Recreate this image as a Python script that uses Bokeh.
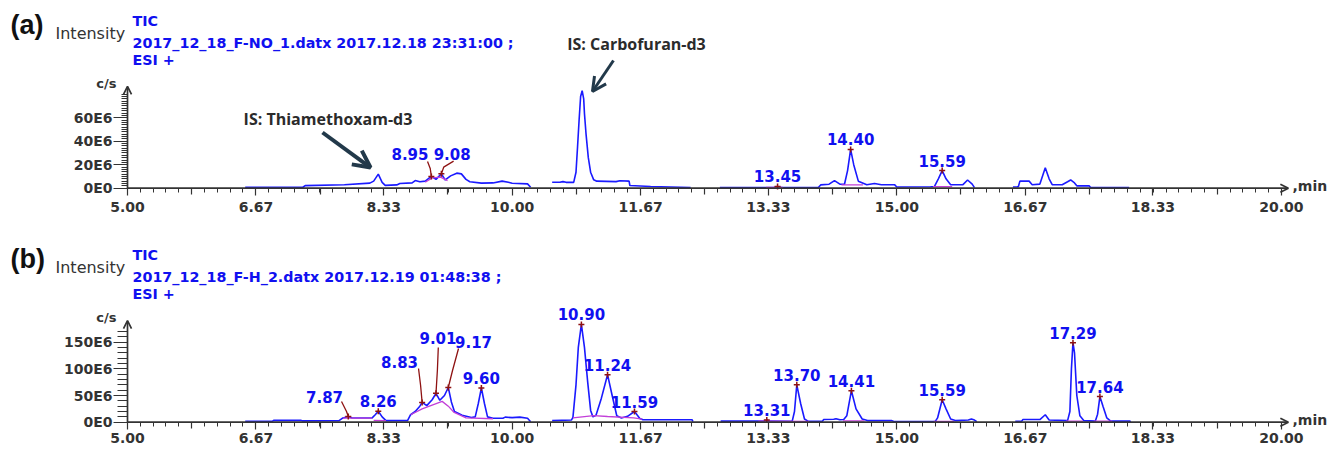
from bokeh.plotting import figure
from bokeh.models import (Range1d, FixedTicker, Label, LabelSet, ColumnDataSource,
                          Arrow, OpenHead, LinearAxis)
from bokeh.layouts import column
from bokeh.core.properties import value
from bokeh.embed import file_html
from bokeh.resources import INLINE

NAN = float("nan")

# ---------------- data ----------------
X_TICKS = [5.00, 6.67, 8.33, 10.00, 11.67, 13.33, 15.00, 16.67, 18.33, 20.00]
X_TICK_LABELS = ["5.00", "6.67", "8.33", "10.00", "11.67", "13.33", "15.00", "16.67", "18.33", "20.00"]

A_Y_TICKS = [0, 20, 40, 60]
A_Y_TICK_LABELS = ["0E0", "20E6", "40E6", "60E6"]
B_Y_TICKS = [0, 50, 100, 150]
B_Y_TICK_LABELS = ["0E0", "50E6", "100E6", "150E6"]

A_HEADER = ["TIC", "2017_12_18_F-NO_1.datx 2017.12.18 23:31:00 ;", "ESI +"]
B_HEADER = ["TIC", "2017_12_18_F-H_2.datx 2017.12.19 01:48:38 ;", "ESI +"]

# TIC trace (a): time in min, intensity in 1E6 c/s (NaN = segment gap)
A_TIME = [6.53, 7.28, 7.31, 7.82, 8.15, 8.20, 8.26, 8.31, 8.35, 8.50, 8.54, 8.70, 8.74, 8.80,
          8.87, 8.95, 9.01, 9.08, 9.13, 9.20, 9.28, 9.34, 9.40, 9.45, 9.60, 9.75, 9.87, 9.95,
          10.00, 10.20, 10.24, NAN,
          10.52, 10.62, 10.66, 10.70, 10.80, 10.83, 10.85, 10.87, 10.89, 10.91, 10.93, 10.94,
          10.96, 10.99, 11.02, 11.06, 11.10, 11.35, 11.40, 11.52, 11.53, 11.80, 12.32, NAN,
          12.70, 13.40, 13.45, 13.50, 13.98, 14.01, 14.12, 14.19, 14.26, 14.32, 14.36, 14.40,
          14.44, 14.50, 14.61, 14.71, 14.80, 14.97, 15.00, 15.44, 15.49, 15.54, 15.59, 15.64,
          15.70, 15.86, 15.92, 15.98, 16.01, NAN,
          16.51, 16.58, 16.60, 16.72, 16.76, 16.86, 16.93, 16.98, 17.02, 17.15, 17.22, 17.26,
          17.31, 17.34, 17.50, 17.52, 18.02]
A_INT = [0.8, 0.8, 2.2, 3.0, 4.3, 6.0, 12.0, 5.0, 2.4, 2.8, 4.0, 4.5, 6.5, 5.5,
         6.0, 10.0, 7.5, 12.2, 7.0, 10.5, 12.8, 12.2, 7.5, 5.5, 4.3, 4.5, 6.0, 5.0,
         4.2, 3.7, 0.8, NAN,
         5.1, 5.0, 5.6, 5.0, 5.0, 13.6, 35.0, 57.6, 78.0, 83.0, 76.0, 63.5,
         46.5, 26.0, 13.6, 7.1, 6.0, 5.6, 6.3, 6.0, 2.3, 1.4, 0.6, NAN,
         0.6, 0.6, 1.5, 0.6, 0.6, 2.8, 3.4, 6.5, 3.5, 3.4, 15.0, 33.0,
         20.0, 6.0, 3.0, 4.0, 3.0, 3.0, 1.0, 1.2, 1.5, 8.0, 15.0, 8.0,
         3.0, 3.0, 7.0, 3.5, 0.5, NAN,
         1.0, 1.2, 6.0, 6.0, 3.0, 3.5, 17.5, 8.0, 3.0, 3.0, 5.5, 7.0,
         4.5, 2.0, 2.0, 0.6, 0.6]

# integration baselines (a)
A_BASE_T = [8.87, 8.96, 9.07, 9.16, NAN, 13.30, 13.52, NAN, 14.28, 14.56, NAN, 15.47, 15.72]
A_BASE_I = [5.1, 8.8, 9.4, 6.5, NAN, 0.6, 0.6, NAN, 2.8, 2.8, NAN, 1.3, 1.3]

# labelled peaks (a)
A_PEAK_T = [8.95, 9.08, 13.45, 14.40, 15.59]
A_PEAK_I = [10.0, 12.2, 1.5, 33.0, 15.0]

# TIC trace (b)
B_TIME = [6.53, 6.88, 6.90, 7.25, 7.27, 7.75, 7.80, 7.87, 7.92, 8.18, 8.22, 8.26, 8.31, 8.36,
          8.64, 8.68, 8.74, 8.80, 8.83, 8.89, 8.96, 9.01, 9.06, 9.12, 9.17, 9.21, 9.25, 9.35,
          9.47, 9.52, 9.56, 9.60, 9.64, 9.68, 9.75, 9.88, 9.91, 10.00, 10.10, 10.20, 10.24, NAN,
          10.52, 10.77, 10.79, 10.83, 10.86, 10.90, 10.94, 10.98, 11.02, 11.05, 11.09, 11.16,
          11.24, 11.30, 11.36, 11.42, 11.50, 11.59, 11.66, 11.70, 12.34, 12.35, NAN,
          12.71, 13.28, 13.31, 13.34, 13.64, 13.67, 13.70, 13.75, 13.80, 13.85, 14.03, 14.05,
          14.18, 14.21, 14.26, 14.31, 14.35, 14.41, 14.47, 14.55, 14.62, 14.93, 14.97, 15.50,
          15.53, 15.59, 15.64, 15.70, 15.76, 15.93, 15.97, 16.01, 16.04, NAN,
          16.54, 16.62, 16.64, 16.86, 16.93, 16.98, 17.22, 17.25, 17.27, 17.29, 17.31, 17.34,
          17.38, 17.43, 17.58, 17.61, 17.64, 17.68, 17.73, 17.78, 18.03, 18.04]
B_INT = [1.5, 1.5, 3.5, 3.5, 2.5, 3.0, 8.0, 10.7, 8.0, 8.0, 14.0, 20.6, 10.0, 3.0,
         3.0, 14.0, 20.0, 30.0, 37.0, 31.0, 42.0, 54.0, 41.0, 50.0, 65.0, 38.0, 20.0, 13.0,
         8.7, 10.0, 35.0, 64.0, 35.0, 10.0, 7.5, 7.5, 9.5, 8.5, 9.5, 7.5, 1.0, NAN,
         3.0, 4.0, 9.0, 70.0, 140.0, 183.0, 140.0, 78.0, 22.0, 10.0, 13.0, 45.0,
         89.0, 50.0, 12.0, 8.0, 11.0, 20.0, 7.0, 4.5, 4.5, 1.0, NAN,
         2.0, 2.0, 4.0, 2.0, 1.5, 20.0, 70.0, 35.0, 6.0, 1.5, 1.5, 5.0,
         5.5, 6.5, 4.5, 5.0, 12.0, 59.0, 25.0, 6.0, 3.0, 3.0, 1.0, 1.5,
         8.0, 42.0, 25.0, 6.0, 3.0, 4.0, 6.0, 4.0, 1.0, NAN,
         1.5, 1.5, 5.0, 5.0, 14.0, 4.0, 3.0, 20.0, 100.0, 149.0, 130.0, 50.0,
         12.0, 3.0, 2.0, 15.0, 48.0, 30.0, 8.0, 2.0, 2.0, 0.5]

B_BASE_T = [7.80, 8.18, NAN, 8.20, 8.36, NAN, 8.68, 8.83, 8.96, 9.09, 9.17, 9.24, 9.40, 9.75, NAN,
            10.79, 11.06, 11.24, 11.58, 11.69, NAN, 13.20, 13.86, NAN, 14.30, 14.58, NAN,
            15.48, 15.75, NAN, 17.20, 17.42, NAN, 17.56, 17.80]
B_BASE_I = [7.5, 7.5, NAN, 3.5, 3.0, NAN, 14.0, 25.0, 32.0, 39.0, 30.0, 19.0, 8.0, 6.5, NAN,
            8.0, 12.5, 10.7, 8.0, 5.6, NAN, 2.0, 1.5, NAN, 2.5, 2.5, NAN,
            1.5, 1.5, NAN, 2.0, 2.0, NAN, 2.0, 2.0]

B_PEAK_T = [7.87, 8.26, 8.83, 9.01, 9.17, 9.60, 10.90, 11.24, 11.59, 13.31, 13.70, 14.41, 15.59, 17.29, 17.64]
B_PEAK_I = [10.7, 20.6, 37.0, 54.0, 65.0, 64.0, 183.0, 89.0, 20.0, 4.0, 70.0, 59.0, 42.0, 149.0, 48.0]

# ---------------- layout / annotation positions ----------------
# labels moved away from their peak (label centre, then leader path to apex), data units
A_LEADERS = {8.95: ((8.672, 29.5), [8.900, 8.935], [22.7, 16.8]),
             9.08: ((9.220, 29.5), [9.239, 9.110], [23.0, 17.9])}
B_LEADERS = {7.87: ((7.561, 46.3), [7.782, 7.847], [38.8, 20.0]),
             8.83: ((8.536, 111.8), [8.783, 8.810], [100.6, 68.7]),
             9.01: ((9.036, 156.8), [9.040, 9.028], [139.9, 96.8]),
             9.17: ((9.498, 149.3), [9.303, 9.225], [138.0, 96.8])}

W, H = 1328, 225
ORIGIN_X = 127.0            # page x of t = 5.00
PX_PER_MIN = 76.93
X_AXIS_END = 20.09          # tip of the time-axis arrow
X_START = 5.0 - ORIGIN_X / PX_PER_MIN
X_END = 5.0 + (W - ORIGIN_X) / PX_PER_MIN

BLUE_LINE = "#1a1aff"
LABEL_BLUE = "#1010f0"
MAGENTA = "#c23fd8"
RED = "#8e1212"
AXIS = "#333333"
SLATE = "#22394a"


def style_axis(ax):
    ax.axis_line_color = None
    ax.major_tick_line_color = AXIS
    ax.major_tick_line_width = 1.2
    ax.minor_tick_line_color = AXIS
    ax.minor_tick_line_width = 1.0
    ax.major_label_text_font = "DejaVu Sans"
    ax.major_label_text_font_style = "bold"
    ax.major_label_text_font_size = "14px"
    ax.major_label_text_color = AXIS


def make_panel(tag, header, bottom_px, px_per_unit, y_top, y_ticks, y_labels, y_minor, minor_len,
               tt, ti, bt, bi, pk_t, pk_i, leaders, x_standoff):
    y_start = -bottom_px / px_per_unit
    y_end = (H - bottom_px) / px_per_unit
    p = figure(width=W, height=H, x_range=Range1d(X_START, X_END), y_range=Range1d(y_start, y_end),
               output_backend="svg", toolbar_location=None,
               min_border_left=0, min_border_right=0, min_border_top=0, min_border_bottom=0)
    p.grid.visible = False
    p.outline_line_color = None
    p.background_fill_color = "white"

    xa = p.xaxis[0]
    xa.fixed_location = 0
    xa.ticker = FixedTicker(ticks=X_TICKS, minor_ticks=[5 + k / 6 for k in range(91)])
    xa.major_label_overrides = dict(zip(X_TICKS, X_TICK_LABELS))
    xa.major_tick_in = 0
    xa.major_tick_out = 7
    xa.minor_tick_in = 0
    xa.minor_tick_out = 4
    xa.major_label_standoff = x_standoff
    style_axis(xa)

    # half-interval ticks (medium length), no labels
    half = [t + 5 / 6 for t in X_TICKS[:-1]]
    xm = LinearAxis(fixed_location=0, ticker=FixedTicker(ticks=half, minor_ticks=[]),
                    major_label_overrides={t: "" for t in half})
    style_axis(xm)
    xm.major_tick_in = 0
    xm.major_tick_out = 6
    p.add_layout(xm, "below")

    ya = p.yaxis[0]
    ya.fixed_location = 5.0
    ya.ticker = FixedTicker(ticks=y_ticks, minor_ticks=y_minor)
    ya.major_label_overrides = dict(zip(y_ticks, y_labels))
    ya.major_tick_in = 0
    ya.major_tick_out = 14
    ya.minor_tick_in = 0
    ya.minor_tick_out = minor_len
    ya.major_label_standoff = 1
    style_axis(ya)

    # axis lines with arrow heads
    p.add_layout(Arrow(end=OpenHead(size=8, line_width=1.7, line_color=AXIS),
                       x_start=5.0, y_start=0, x_end=X_AXIS_END, y_end=0,
                       line_color=AXIS, line_width=1.7))
    p.add_layout(Arrow(end=OpenHead(size=8, line_width=1.7, line_color=AXIS),
                       x_start=5.0, y_start=0, x_end=5.0, y_end=y_top,
                       line_color=AXIS, line_width=1.7))

    # traces
    p.line(tt, ti, line_color=BLUE_LINE, line_width=1.6)
    p.line(bt, bi, line_color=MAGENTA, line_width=1.3)

    # leaders + labels
    lx, ly = [], []
    lab_x, lab_y, lab_off = [], [], []
    for t, i in zip(pk_t, pk_i):
        if t in leaders:
            (cx, cy), mx, my = leaders[t]
            lx.append(list(mx) + [t])
            ly.append(list(my) + [i])
            lab_x.append(cx)
            lab_y.append(cy)
            lab_off.append(0)
        else:
            lab_x.append(t)
            lab_y.append(i)
            lab_off.append(10)
    if lx:
        p.multi_line(lx, ly, line_color=RED, line_width=1.3)
    p.scatter(pk_t, pk_i, marker="cross", size=6, line_color=RED, line_width=1.5)

    src = ColumnDataSource(dict(x=lab_x, y=lab_y, text=["%.2f" % t for t in pk_t], off=lab_off))
    p.add_layout(LabelSet(x="x", y="y", text="text", y_offset="off", source=src,
                          text_align="center", text_baseline="middle",
                          text_font=value("DejaVu Sans"), text_font_style="bold",
                          text_font_size="15px", text_color=LABEL_BLUE))

    # header texts: offsets in px from the axis origin (right / up)
    def hdr(text, dx, dy, size, color, font="DejaVu Sans", style="bold", align="left"):
        p.add_layout(Label(x=ORIGIN_X + dx, y=bottom_px + dy, x_units="screen", y_units="screen",
                           text=text, text_font=font, text_font_size=size, text_font_style=style,
                           text_color=color, text_align=align, text_baseline="middle"))

    hdr(tag, -117, 163, "27px", "#111111", font="Liberation Sans")
    hdr("Intensity", -72, 155, "16px", AXIS, style="normal")
    hdr(header[0], 5, 167, "14.3px", LABEL_BLUE)
    hdr(header[1], 5, 145, "14.3px", LABEL_BLUE)
    hdr(header[2], 5, 128, "14.3px", LABEL_BLUE)
    hdr("c/s", -11, 105, "13px", AXIS, align="right")
    hdr(",min", 1165, 2, "14px", AXIS)
    return p


pa = make_panel("(a)", A_HEADER, 37.3, 1.175, 86.6, A_Y_TICKS, A_Y_TICK_LABELS,
                [2 * k for k in range(41)], 6,
                A_TIME, A_INT, A_BASE_T, A_BASE_I, A_PEAK_T, A_PEAK_I, A_LEADERS, 7)
pb = make_panel("(b)", B_HEADER, 28.3, 0.534, 190.4, B_Y_TICKS, B_Y_TICK_LABELS,
                [10 * k for k in range(18)], 10,
                B_TIME, B_INT, B_BASE_T, B_BASE_I, B_PEAK_T, B_PEAK_I, B_LEADERS, 4)

# internal-standard annotations in panel (a)
for text, (lt, li), (x0, y0, x1, y1), w, hs in [
        ("IS: Thiamethoxam-d3", (7.606, 59.3), (7.535, 47.4, 8.159, 17.6), 4, 17),
        ("IS: Carbofuran-d3", (11.616, 122.3), (11.317, 108.7, 11.044, 82.3), 3, 14)]:
    pa.add_layout(Label(x=lt, y=li, text=text, text_font="Open Sans", text_font_style="bold",
                        text_font_size="16px", text_color="#2b2b2b",
                        text_align="center", text_baseline="middle"))
    pa.add_layout(Arrow(end=OpenHead(size=hs, line_width=w, line_color=SLATE),
                        x_start=x0, y_start=y0, x_end=x1, y_end=y1,
                        line_color=SLATE, line_width=w))

layout = column(pa, pb)
open("out.html", "w").write(file_html(layout, INLINE))
